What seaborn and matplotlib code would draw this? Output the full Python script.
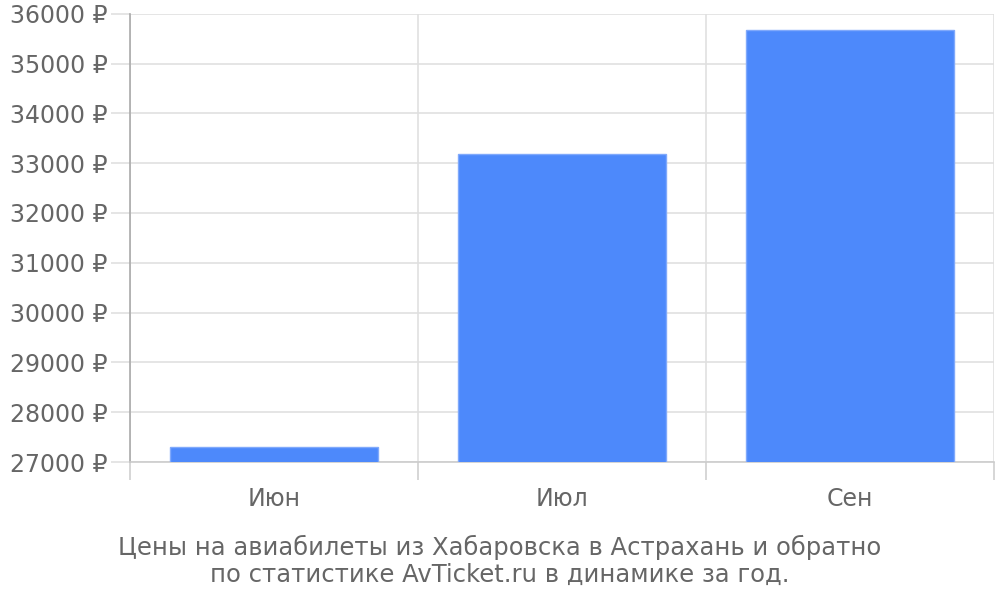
import matplotlib
matplotlib.use("Agg")
import matplotlib.pyplot as plt
import seaborn as sns
import pandas as pd
from matplotlib.ticker import FixedLocator, FuncFormatter

months = ["Июн", "Июл", "Сен"]
prices = [27300, 33190, 35680]
y_ticks = list(range(27000, 36001, 1000))
caption = "Цены на авиабилеты из Хабаровска в Астрахань и обратно\nпо статистике AvTicket.ru в динамике за год."

sns.set_theme(style="white")
plt.rcParams['font.family'] = ['DejaVu Sans']

df = pd.DataFrame({"month": months, "price": prices})

fig = plt.figure(figsize=(10, 6), dpi=100)
ax = fig.add_axes([0.130, 0.230, 0.864, 0.747])

sns.barplot(data=df, x="month", y="price", color="#4d89fb", saturation=1,
            width=0.72, edgecolor="#80a9fb", linewidth=1, ax=ax, zorder=3)

ax.set_ylim(27000, 36000)
ax.set_xlim(-0.5, len(months) - 0.5)
ax.yaxis.set_major_locator(FixedLocator(y_ticks))
ax.yaxis.set_major_formatter(FuncFormatter(lambda v, p: f"{int(v)} ₽"))
ax.xaxis.set_minor_locator(FixedLocator([i - 0.5 for i in range(len(months) + 1)]))

ax.grid(axis="y", which="major", color="#e0e0e0", linewidth=1.2, zorder=0)
ax.grid(axis="x", which="minor", color="#e0e0e0", linewidth=1.2, zorder=0)
ax.set_axisbelow(True)

ax.tick_params(axis="y", which="major", length=14, width=1.2, color="#e0e0e0",
               labelsize=17, labelcolor="#666666", pad=2, left=True)
ax.tick_params(axis="x", which="major", length=0, labelsize=17,
               labelcolor="#666666", pad=18)
ax.tick_params(axis="x", which="minor", length=13, width=1.2, color="#d0d0d0",
               bottom=True)

for s in ["top", "right"]:
    ax.spines[s].set_visible(False)
ax.spines["left"].set_color("#aaaaaa")
ax.spines["left"].set_linewidth(1.2)
ax.spines["bottom"].set_color("#cccccc")
ax.spines["bottom"].set_linewidth(1.2)

ax.set_xlabel("")
ax.set_ylabel("")

fig.text(0.5, 0.065, caption, ha="center", va="center", fontsize=17.5,
         color="#666666", linespacing=1.15)

fig.savefig("out.png", dpi=100)
